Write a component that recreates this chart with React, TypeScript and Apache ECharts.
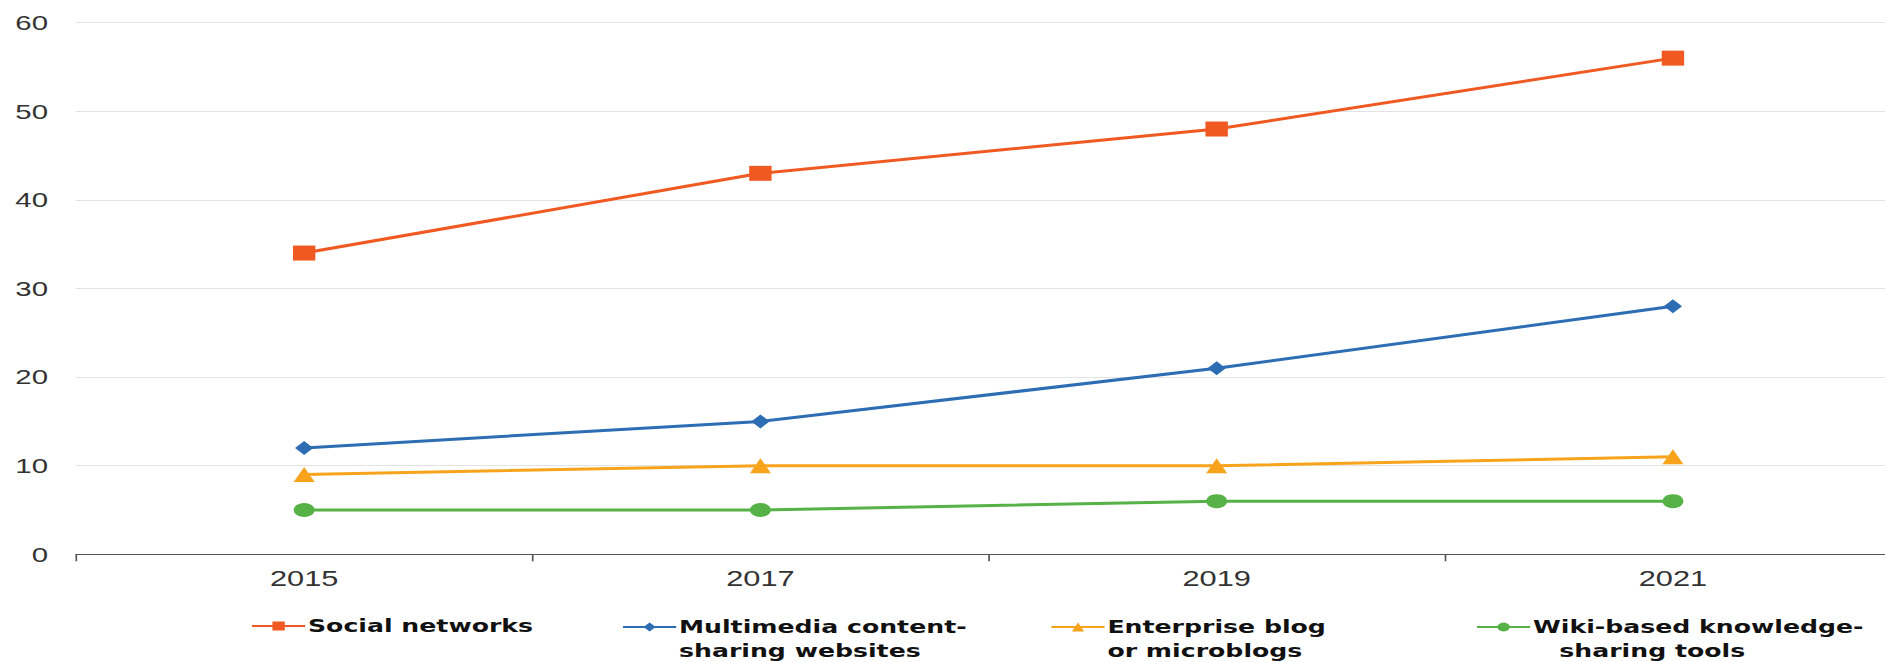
import React, { useEffect, useRef } from "react";
import * as echarts from "echarts";

// Survey years on the category axis
const years = ["2015", "2017", "2019", "2021"];

// Share of enterprises using each kind of tool (%)
const socialNetworks = [34, 43, 48, 56];
const multimediaSharing = [12, 15, 21, 28];
const enterpriseBlogs = [9, 10, 10, 11];
const wikiTools = [5, 5, 6, 6];

// Value-axis range and step
const yMin = 0;
const yMax = 60;
const yStep = 10;

const seriesNames = [
  "Social networks",
  "Multimedia content-\nsharing websites",
  "Enterprise blog\nor microblogs",
  "Wiki-based knowledge-\n\u00a0\u00a0\u00a0sharing tools",
];

const colors = ["#F05A22", "#2C6DB4", "#F8A31C", "#56B247"];

// The whole drawing is stretched horizontally by this factor
const STRETCH = 1.4;
const CHART_W = 1360;
const CHART_H = 662;
const LINE_H = 24;

export default function App() {
  const ref = useRef<HTMLDivElement>(null);

  useEffect(() => {
    if (!ref.current) return;
    const chart = echarts.init(ref.current, undefined, { renderer: "svg" });

    const baseText = {
      fontFamily: "DejaVu Sans",
      fontWeight: "bold" as const,
      fontSize: 18,
      color: "#111",
      lineHeight: LINE_H,
    };

    // Multi-line entries keep their first line level with the icon
    const makeLegend = (name: string, left: number) => {
      const multi = name.includes("\n");
      const extra = multi ? LINE_H : 0;
      return {
        data: [name],
        left,
        top: multi ? 591 : 614,
        padding: 0,
        itemWidth: 38,
        itemHeight: 11,
        selectedMode: false,
        formatter: (n: string) =>
          n
            .split("\n")
            .map((s) => `{t|${s}}`)
            .join("\n"),
        textStyle: {
          ...baseText,
          padding: [extra, 0, 0, -3],
          rich: { t: { ...baseText } },
        },
      };
    };

    const line = (
      name: string,
      data: number[],
      color: string,
      symbol: string,
      size: number[]
    ) => ({
      name,
      type: "line",
      data,
      symbol,
      symbolSize: size,
      showSymbol: true,
      lineStyle: { color, width: 3 },
      itemStyle: { color },
      z: 3,
    });

    chart.setOption({
      animation: false,
      backgroundColor: "#ffffff",
      grid: {
        left: 54.3,
        right: CHART_W - 54.3 - 1303.6,
        top: 22.7,
        bottom: 107.7,
        containLabel: false,
      },
      xAxis: {
        type: "category",
        data: years,
        boundaryGap: true,
        axisLine: { show: true, lineStyle: { color: "#555", width: 1.2 } },
        axisTick: { show: true, length: 7, lineStyle: { color: "#555", width: 1.2 } },
        axisLabel: {
          color: "#333",
          fontFamily: "Liberation Sans",
          fontSize: 22,
          margin: 13,
        },
        splitLine: { show: false },
      },
      yAxis: {
        type: "value",
        min: yMin,
        max: yMax,
        interval: yStep,
        axisLine: { show: false },
        axisTick: { show: false },
        axisLabel: {
          color: "#333",
          fontFamily: "Liberation Sans",
          fontSize: 21,
          margin: 20,
        },
        splitLine: { lineStyle: { color: "#E3E3E3", width: 1.2 } },
      },
      legend: [
        makeLegend(seriesNames[0], 179),
        makeLegend(seriesNames[1], 444),
        makeLegend(seriesNames[2], 750),
        makeLegend(seriesNames[3], 1054),
      ],
      series: [
        line(seriesNames[0], socialNetworks, colors[0], "rect", [16, 15]),
        line(seriesNames[1], multimediaSharing, colors[1], "diamond", [13, 14]),
        line(seriesNames[2], enterpriseBlogs, colors[2], "triangle", [15, 15]),
        line(seriesNames[3], wikiTools, colors[3], "circle", [15, 14]),
      ],
    });

    return () => chart.dispose();
  }, []);

  return (
    <div
      style={{
        position: "absolute",
        left: 0,
        top: 0,
        width: 1885,
        height: CHART_H,
        overflow: "hidden",
        background: "#fff",
      }}
    >
      <div
        ref={ref}
        style={{
          width: CHART_W,
          height: CHART_H,
          transform: `scaleX(${STRETCH})`,
          transformOrigin: "0 0",
        }}
      />
    </div>
  );
}
